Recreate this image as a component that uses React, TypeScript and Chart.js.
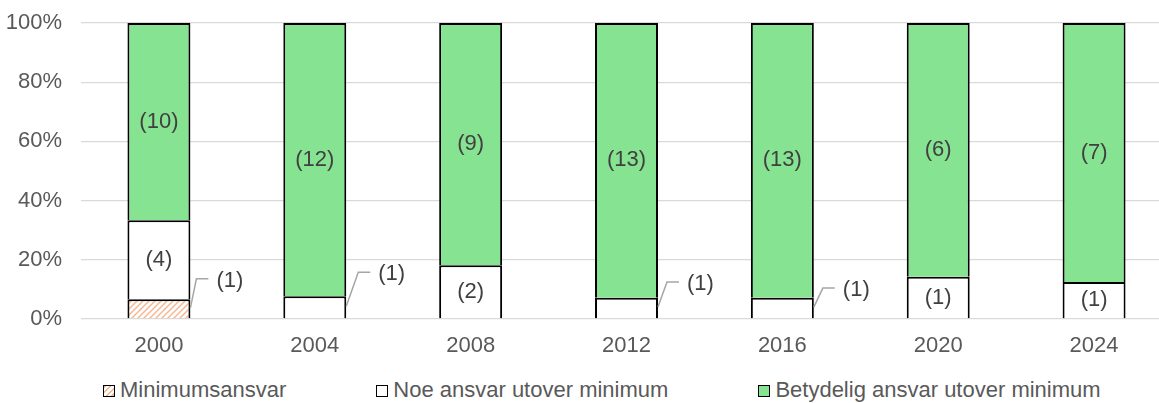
import React, { useEffect, useRef } from "react";
import { Chart, registerables } from "chart.js";

Chart.register(...registerables);

// Survey years on the x axis
const years = ["2000", "2004", "2008", "2012", "2016", "2020", "2024"];

// Number of cases per category and year
const minimumsansvar = [1, 0, 0, 0, 0, 0, 0];
const noeAnsvar = [4, 1, 2, 1, 1, 1, 1];
const betydeligAnsvar = [10, 12, 9, 13, 13, 6, 7];

const seriesNames = [
  "Minimumsansvar",
  "Noe ansvar utover minimum",
  "Betydelig ansvar utover minimum",
];

// Percent ticks on the y axis
const yTicks = [0, 20, 40, 60, 80, 100];

const FONT = '"Liberation Sans", Arial, Helvetica, sans-serif';
const GREEN = "#86e391";
const HATCH = "#f5b890";
const TICK_COLOR = "#595959";
const LABEL_COLOR = "#404040";

// Small segments whose count is placed beside the bar with a leader line
const callouts = [
  { ds: 0, i: 0, dx: 26, dy: -28 },
  { ds: 1, i: 1, dx: 32, dy: -33 },
  { ds: 1, i: 3, dx: 29, dy: -24 },
  { ds: 1, i: 4, dx: 29, dy: -18 },
];

const counts = [minimumsansvar, noeAnsvar, betydeligAnsvar];
const totals = years.map((_, i) => counts.reduce((s, arr) => s + arr[i], 0));
const toPercent = (arr: number[]) => arr.map((v, i) => (v / totals[i]) * 100);

function makeHatch(): CanvasPattern | string {
  const tile = document.createElement("canvas");
  tile.width = 6;
  tile.height = 6;
  const c = tile.getContext("2d");
  if (!c) return HATCH;
  c.fillStyle = "#ffffff";
  c.fillRect(0, 0, 6, 6);
  c.strokeStyle = HATCH;
  c.lineWidth = 1.5;
  c.beginPath();
  c.moveTo(0, 6);
  c.lineTo(6, 0);
  c.moveTo(-1, 1);
  c.lineTo(1, -1);
  c.moveTo(5, 7);
  c.lineTo(7, 5);
  c.stroke();
  const p = c.createPattern(tile, "repeat");
  return p || HATCH;
}

const countLabels = {
  id: "countLabels",
  afterDatasetsDraw(chart: any) {
    const ctx = chart.ctx as CanvasRenderingContext2D;
    ctx.save();
    ctx.font = `22px ${FONT}`;
    ctx.fillStyle = LABEL_COLOR;
    ctx.textBaseline = "middle";
    chart.data.datasets.forEach((_: any, d: number) => {
      const meta = chart.getDatasetMeta(d);
      meta.data.forEach((bar: any, i: number) => {
        const count = counts[d][i];
        if (!count) return;
        const { x, y, base, width } = bar.getProps(["x", "y", "base", "width"], true);
        const cy = (y + base) / 2;
        const text = `(${count})`;
        const co = callouts.find((c) => c.ds === d && c.i === i);
        if (co) {
          const right = x + width / 2;
          const lx = right + co.dx;
          const ly = cy + co.dy;
          ctx.strokeStyle = "#a6a6a6";
          ctx.lineWidth = 1.5;
          ctx.beginPath();
          ctx.moveTo(right, cy - 1);
          ctx.lineTo(lx - 20, ly - 2);
          ctx.lineTo(lx - 8, ly - 2);
          ctx.stroke();
          ctx.textAlign = "left";
          ctx.fillText(text, lx, ly);
        } else {
          ctx.textAlign = "center";
          ctx.fillText(text, x, cy);
        }
      });
    });
    ctx.restore();
  },
};

function LegendBox({ fill }: { fill: string }) {
  return (
    <span
      style={{
        display: "inline-block",
        boxSizing: "border-box",
        width: 12,
        height: 12,
        border: "1.5px solid #000",
        background: fill,
        marginRight: 5,
        marginTop: 2,
      }}
    />
  );
}

export default function App() {
  const canvasRef = useRef<HTMLCanvasElement | null>(null);

  useEffect(() => {
    const canvas = canvasRef.current;
    if (!canvas) return;
    const hatch = makeHatch();
    const common = {
      borderColor: "#000000",
      borderWidth: 2,
      barPercentage: 0.404,
      categoryPercentage: 1,
    };
    const chart = new Chart(canvas, {
      type: "bar",
      data: {
        labels: years,
        datasets: [
          { label: seriesNames[0], data: toPercent(minimumsansvar), backgroundColor: hatch as any, ...common },
          { label: seriesNames[1], data: toPercent(noeAnsvar), backgroundColor: "#ffffff", ...common },
          { label: seriesNames[2], data: toPercent(betydeligAnsvar), backgroundColor: GREEN, ...common },
        ],
      },
      options: {
        animation: false,
        responsive: false,
        devicePixelRatio: 1,
        layout: { padding: { left: 0, right: 0, top: 23, bottom: 0 } },
        plugins: {
          legend: { display: false },
          tooltip: { enabled: false },
        },
        scales: {
          x: {
            stacked: true,
            grid: { display: false, drawTicks: false },
            border: { display: false },
            ticks: {
              color: TICK_COLOR,
              font: { family: FONT, size: 22 },
              padding: 14,
            },
            afterFit: (scale: any) => {
              scale.height = 46;
            },
          },
          y: {
            stacked: true,
            min: 0,
            max: 100,
            afterBuildTicks: (scale: any) => {
              scale.ticks = yTicks.map((v) => ({ value: v }));
            },
            grid: { color: "#d9d9d9", lineWidth: 1.3, drawTicks: false },
            border: { display: false },
            ticks: {
              color: TICK_COLOR,
              font: { family: FONT, size: 22 },
              padding: 19,
              callback: (v: any) => `${v}%`,
            },
            afterFit: (scale: any) => {
              scale.width = 81;
              // the top label fits inside the layout padding already
              scale.paddingTop = 0;
              scale.paddingBottom = 0;
            },
          },
        },
      },
      plugins: [countLabels],
    });
    return () => chart.destroy();
  }, []);

  const legendFills = [
    `repeating-linear-gradient(135deg, ${HATCH} 0 1.5px, #ffffff 1.5px 4px)`,
    "#ffffff",
    GREEN,
  ];

  return (
    <div
      style={{
        position: "absolute",
        left: 0,
        top: 0,
        width: 1159,
        height: 403,
        overflow: "hidden",
        background: "#ffffff",
        fontFamily: FONT,
      }}
    >
      {/* the plot runs slightly past the right edge, so the canvas is wider than the frame */}
      <canvas ref={canvasRef} width={1172} height={365} style={{ display: "block", width: 1172, height: 365 }} />
      <div
        style={{
          position: "absolute",
          left: 103,
          top: 376,
          height: 27,
          display: "flex",
          gap: 90,
          alignItems: "center",
          fontSize: 22,
          lineHeight: "27px",
          color: TICK_COLOR,
          whiteSpace: "nowrap",
        }}
      >
        {seriesNames.map((name, k) => (
          <div key={name} style={{ display: "flex", alignItems: "center" }}>
            <LegendBox fill={legendFills[k]} />
            <span>{name}</span>
          </div>
        ))}
      </div>
    </div>
  );
}
